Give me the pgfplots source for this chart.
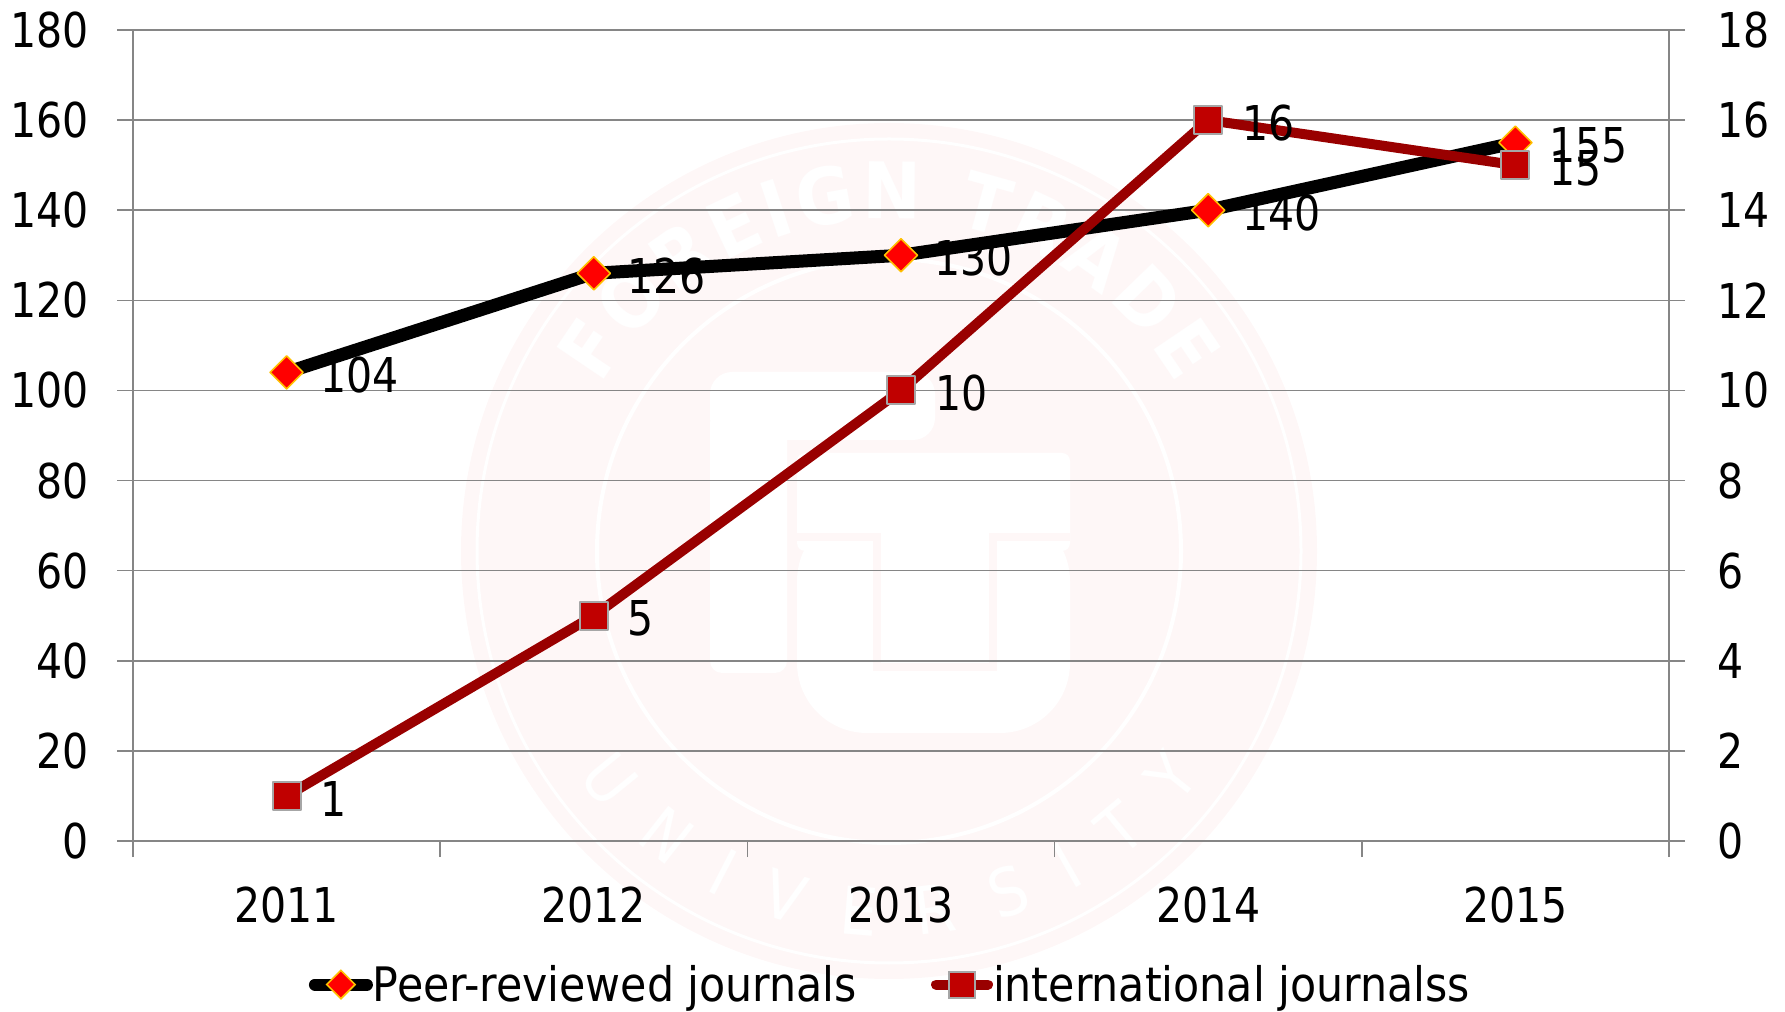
\documentclass[border=0pt]{standalone}
\usepackage{fontspec}
\setmainfont{DejaVu Sans Condensed}
\newfontfamily\numfam[FakeStretch=0.95]{DejaVu Sans Condensed}
\usepackage{pgfplots}
\pgfplotsset{compat=1.18}
\usetikzlibrary{decorations.text}
\definecolor{gridgrey}{HTML}{868686}
\definecolor{linered}{HTML}{990000}
\definecolor{markred}{HTML}{C00000}
\definecolor{markgold}{HTML}{FFC000}
\definecolor{markgrey}{HTML}{A6A6A6}
\definecolor{wm}{HTML}{FEF7F7}
\pgfplotstableread{
x peer
0 104
1 126
2 130
3 140
4 155
}\peertable
\pgfplotstableread{
x intl
0 1
1 5
2 10
3 16
4 15
}\intltable
\newcommand{\bigfont}{\numfam\fontsize{48bp}{54bp}\selectfont}
\newcommand{\legfont}{\fontsize{47.5bp}{54bp}\selectfont}
\newcommand{\wmfont}{\bfseries\fontsize{78bp}{84bp}\selectfont}
\newcommand{\wmfontb}{\fontsize{66bp}{72bp}\selectfont}
\pgfplotsset{
  common/.style={
    width=1536bp, height=811bp, scale only axis,
    at={(133bp,170bp)}, anchor=south west,
    xmin=-0.5, xmax=4.5, clip=false,
    axis line style={draw=gridgrey, line width=1.6bp},
    tick style={draw=gridgrey, line width=1.6bp},
    major tick length=16bp, minor tick length=16bp,
    tick align=outside,
    /pgf/number format/assume math mode=true,
    /pgf/number format/1000 sep={},
    tick label style={font=\bigfont, text=black, inner sep=0pt},
    nodes near coords style={anchor=west, xshift=33bp, yshift=-3bp, font=\bigfont, text=black, inner sep=0pt},
  },
}
\begin{document}
\begin{tikzpicture}[x=1bp,y=1bp]
\path[use as bounding box] (0,0) rectangle (1785,1011);
% watermark seal
\begin{scope}[shift={(889,460)}]
  \fill[wm] (0,0) circle (428);
  \draw[white, line width=3bp] (0,0) circle (412);
  \draw[white, line width=4bp] (0,0) circle (292);
  \path[decorate, decoration={text along path, text align={fit to path}, text={|\wmfont\color{white}|FOREIGN TRADE}}]
    (150:332) arc[start angle=150, end angle=30, radius=332];
  \path[decorate, decoration={text along path, text align={fit to path}, text={|\wmfontb\color{white}|UNIVERSITY}}]
    (216:385) arc[start angle=216, end angle=324, radius=385];
  % logo
  \fill[white, rounded corners=22bp] (-179,179) rectangle (46,111);
  \fill[white, rounded corners=12bp] (-179,140) rectangle (-102,-122);
  \fill[white, rounded corners=70bp] (-92,40) -- (-92,-182) -- (181,-182) -- (181,40) -- cycle;
  \fill[white, rounded corners=8bp] (-92,98) rectangle (181,0);
  \draw[wm, line width=8bp] (-92,14) -- (-12,14) -- (-12,-116) -- (104,-116) -- (104,14) -- (181,14);
\end{scope}
% left axis
\begin{axis}[common,
  ymin=0, ymax=180, ytick={0,20,...,180},
  axis y line*=left, axis x line*=bottom,
  ymajorgrids, y grid style={draw=gridgrey, line width=1.6bp},
  xtick={0,1,2,3,4}, xticklabels={2011,2012,2013,2014,2015},
  minor xtick={-0.5,0.5,1.5,2.5,3.5,4.5},
  x tick style={draw=none},
  minor x tick style={draw=gridgrey, line width=1.6bp},
  xticklabel style={anchor=north, yshift=-30bp},
  yticklabel style={anchor=east, xshift=-28bp},
]
\addplot[black, line width=13bp, line join=round,
  mark=square*, mark size=11.7bp,
  mark options={rotate=45, fill=red, draw=markgold, line width=1.6bp},
  nodes near coords] table[x=x,y=peer] {\peertable};
\end{axis}
% right axis
\begin{axis}[common,
  ymin=0, ymax=18, ytick={0,2,...,18},
  axis y line*=right, hide x axis,
  yticklabel style={anchor=west, xshift=32bp},
  legend columns=2,
  legend cell align=left,
  legend style={at={(0.4925,-0.177)}, anchor=center, draw=none, fill=none,
    font=\legfont, text=black, inner sep=0pt, outer sep=0pt,
    nodes={inner sep=0pt, outer sep=0pt},
    /tikz/every odd column/.append style={column sep=0pt},
    /tikz/every even column/.append style={column sep=74bp}},
  legend image code/.code={
    \draw[#1, mark=none, line cap=round] (6bp,0bp) -- (58bp,0bp);
    \path[#1, draw=none] plot coordinates {(32bp,0bp)};
  },
]
\addlegendimage{black, line width=12bp, mark=square*, mark size=10bp,
  mark options={rotate=45, fill=red, draw=markgold, line width=1.6bp}}
\addlegendentry{Peer-reviewed journals}
\addlegendimage{linered, line width=10bp, mark=square*, mark size=13bp,
  mark options={fill=markred, draw=markgrey, line width=2bp}}
\addlegendentry{international journalss}
\addplot[forget plot, linered, line width=10bp, line join=round,
  mark=square*, mark size=14bp,
  mark options={fill=markred, draw=markgrey, line width=2bp},
  nodes near coords] table[x=x,y=intl] {\intltable};
\end{axis}
\end{tikzpicture}
\end{document}
